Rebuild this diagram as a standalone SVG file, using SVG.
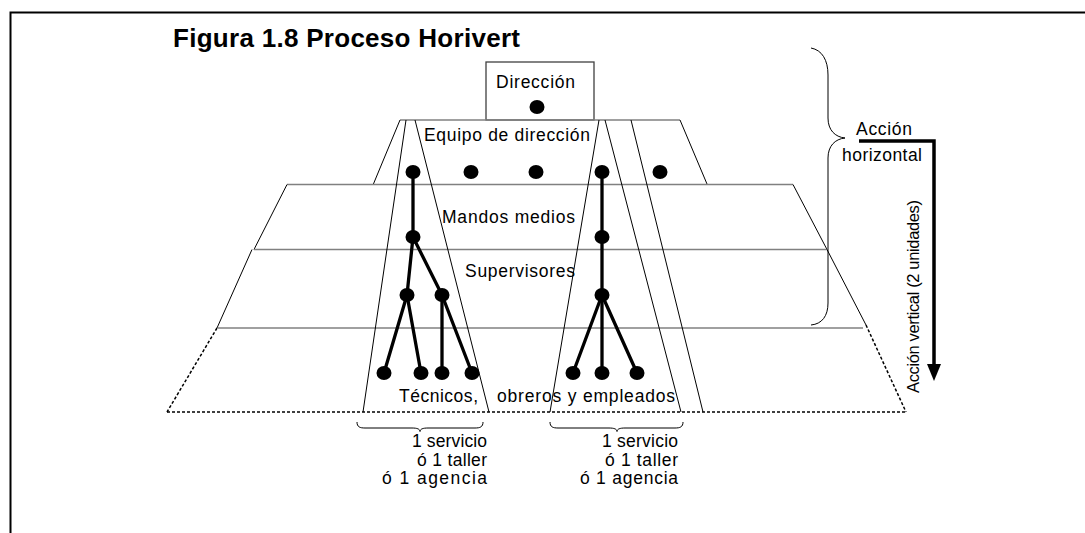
<svg xmlns="http://www.w3.org/2000/svg" width="1085" height="533" viewBox="0 0 1085 533">
<style>
text{font-family:"Liberation Sans",Arial,sans-serif;font-size:17.5px;fill:#000}
.title{font-size:26px;font-weight:bold}
.vt{font-size:16.5px}
.side{fill:none;stroke:#000;stroke-width:1}
.hl{fill:none;stroke:#808080;stroke-width:1.5}
.dash{fill:none;stroke:#000;stroke-width:1.5;stroke-dasharray:3 2}
.dot{fill:#000}
.edge{stroke:#000;stroke-width:3.3;fill:none;stroke-linecap:round}
.brace{fill:none;stroke:#000;stroke-width:1}
</style>
<rect width="1085" height="533" fill="#fff"/>
<g id="frame">
<path d="M10.5,533 L10.5,12.5 L1085,12.5" fill="none" stroke="#000" stroke-width="2"/>
</g>
<text class="title" x="173" y="46.5" textLength="347" lengthAdjust="spacing">Figura 1.8 Proceso Horivert</text>

<g id="direccion">
<rect x="486" y="62" width="108" height="58" fill="none" stroke="#404040" stroke-width="1.3"/>
<text x="496" y="88" textLength="79" lengthAdjust="spacing">Dirección</text>
</g>

<g id="equipo">
<line class="hl" x1="400" y1="120" x2="680" y2="120"/>
<line class="side" x1="400" y1="120" x2="373" y2="185"/>
<line class="side" x1="680" y1="120" x2="707" y2="184"/>
<text x="424" y="141" textLength="166" lengthAdjust="spacing">Equipo de dirección</text>
</g>

<g id="mandos">
<line class="hl" x1="287" y1="184.5" x2="793" y2="184.5"/>
<line class="side" x1="287" y1="184.5" x2="254" y2="249.5"/>
<line class="side" x1="793" y1="184.5" x2="827" y2="249.5"/>
<text x="442" y="223" textLength="133" lengthAdjust="spacing">Mandos medios</text>
</g>

<g id="supervisores">
<line class="hl" x1="254" y1="249.5" x2="827" y2="249.5"/>
<line class="side" x1="252" y1="249.5" x2="217" y2="328"/>
<line class="side" x1="827" y1="249.5" x2="866" y2="325"/>
<text x="465" y="277" textLength="110" lengthAdjust="spacing">Supervisores</text>
</g>

<g id="tecnicos">
<line class="hl" x1="218" y1="328" x2="863" y2="328"/>
<line class="dash" x1="217" y1="328" x2="167" y2="412"/>
<line class="dash" x1="866" y1="325" x2="906" y2="412"/>
<line class="dash" x1="167" y1="412" x2="906" y2="412"/>
<text x="399" y="402" textLength="79" lengthAdjust="spacing">Técnicos,</text>
<text x="497" y="402" textLength="178" lengthAdjust="spacing">obreros y empleados</text>
</g>

<g id="slice-left">
<line class="side" x1="406" y1="120" x2="363" y2="412"/>
<line class="side" x1="415" y1="120" x2="489" y2="412"/>
<path class="brace" d="M357,422 C357,427 360,428 365,428 L412,428 C417,428 420,429 420,431.5 C420,429 423,428 428,428 L475,428 C480,428 483,427 483,422"/>
<text x="487" y="447" text-anchor="end" textLength="75" lengthAdjust="spacing">1 servicio</text>
<text x="487" y="465.5" text-anchor="end" textLength="70" lengthAdjust="spacing">ó 1 taller</text>
<text x="487" y="484" text-anchor="end" textLength="105" lengthAdjust="spacing">ó 1 agencia</text>
</g>

<g id="slice-right">
<line class="side" x1="599" y1="120" x2="550" y2="412"/>
<line class="side" x1="605" y1="120" x2="681" y2="412"/>
<line class="side" x1="631" y1="120" x2="703" y2="412"/>
<path class="brace" d="M550,422 C550,427 553,428 558,428 L609,428 C614,428 617,429 617,431.5 C617,429 620,428 625,428 L675,428 C680,428 683,427 683,422"/>
<text x="678" y="447" text-anchor="end" textLength="76" lengthAdjust="spacing">1 servicio</text>
<text x="678" y="465.5" text-anchor="end" textLength="73" lengthAdjust="spacing">ó 1 taller</text>
<text x="678" y="484" text-anchor="end" textLength="98" lengthAdjust="spacing">ó 1 agencia</text>
</g>

<g id="connectors">
<line class="edge" x1="413" y1="172" x2="413" y2="237"/>
<line class="edge" x1="413" y1="237" x2="407" y2="295"/>
<line class="edge" x1="413" y1="237" x2="442" y2="295"/>
<line class="edge" x1="407" y1="295" x2="384" y2="373"/>
<line class="edge" x1="407" y1="295" x2="421" y2="373"/>
<line class="edge" x1="442" y1="295" x2="442" y2="373"/>
<line class="edge" x1="442" y1="295" x2="472" y2="373"/>
<line class="edge" x1="602" y1="172" x2="602" y2="295"/>
<line class="edge" x1="602" y1="295" x2="573" y2="373"/>
<line class="edge" x1="602" y1="295" x2="602" y2="373"/>
<line class="edge" x1="602" y1="295" x2="637" y2="373"/>
</g>

<g id="dots">
<ellipse class="dot" cx="537" cy="107" rx="7.5" ry="7"/>
<ellipse class="dot" cx="413" cy="172" rx="7.5" ry="7"/>
<ellipse class="dot" cx="471" cy="172" rx="7.5" ry="7"/>
<ellipse class="dot" cx="536" cy="172" rx="7.5" ry="7"/>
<ellipse class="dot" cx="602" cy="172" rx="7.5" ry="7"/>
<ellipse class="dot" cx="660" cy="172" rx="7.5" ry="7"/>
<ellipse class="dot" cx="413" cy="237" rx="7.5" ry="7"/>
<ellipse class="dot" cx="602" cy="237" rx="7.5" ry="7"/>
<ellipse class="dot" cx="407" cy="295" rx="7.5" ry="7"/>
<ellipse class="dot" cx="442" cy="295" rx="7.5" ry="7"/>
<ellipse class="dot" cx="602" cy="295" rx="7.5" ry="7"/>
<ellipse class="dot" cx="384" cy="373" rx="7.5" ry="7"/>
<ellipse class="dot" cx="421" cy="373" rx="7.5" ry="7"/>
<ellipse class="dot" cx="442" cy="373" rx="7.5" ry="7"/>
<ellipse class="dot" cx="472" cy="373" rx="7.5" ry="7"/>
<ellipse class="dot" cx="573" cy="373" rx="7.5" ry="7"/>
<ellipse class="dot" cx="602" cy="373" rx="7.5" ry="7"/>
<ellipse class="dot" cx="637" cy="373" rx="7.5" ry="7"/>
</g>

<g id="accion-horizontal">
<path class="brace" d="M811,48 C822,50 828,60 828,75 L828,118 C828,130 835,137 845,138 C835,139 828,146 828,158 L828,303 C828,316 822,324 811,325"/>
<text x="856" y="135" textLength="56" lengthAdjust="spacing">Acción</text>
<text x="842" y="161" textLength="80" lengthAdjust="spacing">horizontal</text>
</g>

<g id="accion-vertical">
<path d="M859,141 L934,141 L934,366" fill="none" stroke="#000" stroke-width="3.5"/>
<polygon points="927,364 941,364 934,381" fill="#000"/>
<text class="vt" transform="translate(919,393) rotate(-90)" x="0" y="0" textLength="193" lengthAdjust="spacing">Acción vertical (2 unidades)</text>
</g>
</svg>
